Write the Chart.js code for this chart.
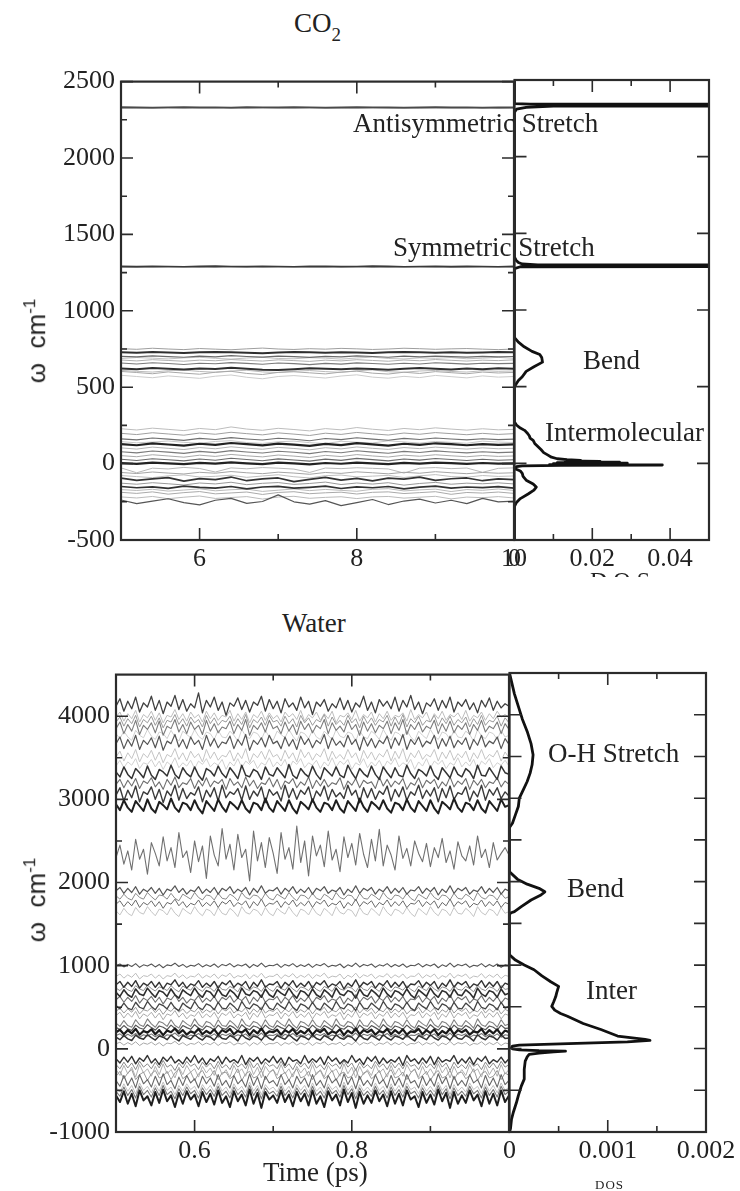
<!DOCTYPE html>
<html>
<head>
<meta charset="utf-8">
<script src="https://cdn.jsdelivr.net/npm/chart.js@4.4.1/dist/chart.umd.min.js"></script>
<style>
  html, body { margin: 0; padding: 0; background: #fff; }
  body { width: 740px; height: 1191px; overflow: hidden; position: relative;
         font-family: 'Liberation Serif', 'Times New Roman', serif; color: #222; }
  canvas { position: absolute; }
  .t { position: absolute; white-space: nowrap; font-size: 27px; line-height: 27px; }
  .ylab { position: absolute; white-space: nowrap; font-family: 'Liberation Sans', Arial, sans-serif;
          font-size: 26px; line-height: 26px; transform: translate(-50%, -50%) rotate(-90deg); }
  .ylab sup { font-size: 17px; }
</style>
</head>
<body>
<canvas id="co2Series" width="503" height="520" style="left:41px;top:60px"></canvas>
<canvas id="co2Dos" width="245" height="520" style="left:504px;top:60px"></canvas>
<canvas id="waterSeries" width="503" height="519" style="left:36px;top:653px"></canvas>
<canvas id="waterDos" width="247" height="519" style="left:499px;top:653px"></canvas>

<div class="t" style="left:294px;top:10px">CO<span style="font-size:19px;position:relative;top:9px">2</span></div>
<div class="t" style="left:353px;top:110px">Antisymmetric Stretch</div>
<div class="t" style="left:393px;top:234px">Symmetric Stretch</div>
<div class="t" style="left:583px;top:347px">Bend</div>
<div class="t" style="left:545px;top:419px">Intermolecular</div>
<div class="ylab" style="left:33px;top:341px">ω&nbsp;&nbsp;cm<sup>-1</sup></div>
<div style="position:absolute;left:590px;top:568px;height:9px;overflow:hidden">
  <div style="font-size:24px;line-height:24px;letter-spacing:6px">DOS</div>
</div>

<div class="t" style="left:282px;top:610px">Water</div>
<div class="t" style="left:548px;top:740px">O-H Stretch</div>
<div class="t" style="left:567px;top:875px">Bend</div>
<div class="t" style="left:586px;top:977px">Inter</div>
<div class="ylab" style="left:33px;top:900px">ω&nbsp;&nbsp;cm<sup>-1</sup></div>
<div class="t" style="left:263px;top:1159px">Time (ps)</div>
<div class="t" style="left:595px;top:1178px;font-size:13px;line-height:13px;letter-spacing:1px">DOS</div>

<script>
// ---------- CO2: instantaneous mode frequencies vs time (cm^-1) ----------
const co2Time = [5.0,5.2,5.4,5.6,5.8,6.0,6.2,6.4,6.6,6.8,7.0,7.2,7.4,7.6,7.8,8.0,8.2,8.4,8.6,8.8,9.0,9.2,9.4,9.6,9.8,10.0];

const co2Asym1 = [2333,2331,2330,2332,2334,2331,2332,2330,2333,2332,2331,2333,2332,2330,2331,2333,2332,2331,2330,2332,2333,2331,2332,2330,2332,2331];
const co2Asym2 = [2325,2327,2328,2326,2324,2327,2326,2328,2325,2327,2326,2324,2327,2328,2326,2325,2327,2328,2326,2325,2327,2326,2328,2327,2325,2327];
const co2Sym1  = [1291,1289,1292,1290,1288,1291,1293,1290,1289,1292,1290,1288,1291,1292,1289,1290,1293,1291,1288,1290,1292,1289,1291,1290,1288,1291];
const co2Sym2  = [1286,1288,1285,1287,1289,1286,1284,1287,1288,1285,1287,1289,1286,1285,1288,1287,1284,1286,1289,1287,1285,1288,1286,1287,1289,1286];

const co2Bend1 = [728,726,730,727,724,729,731,728,725,722,727,730,728,726,729,727,724,728,731,729,726,728,725,727,730,728];
const co2Bend2 = [752,748,755,750,746,753,749,745,751,756,750,747,752,749,754,751,747,750,755,752,748,751,753,749,746,750];
const co2Bend3 = [702,698,705,700,696,703,699,706,701,697,704,700,695,702,699,705,701,696,703,698,704,700,697,702,699,701];
const co2Bend4 = [678,672,680,675,670,677,673,681,676,671,679,674,669,677,672,680,675,670,678,673,681,676,671,677,674,679];
const co2Bend5 = [658,652,660,655,649,657,653,661,656,650,658,654,648,656,651,659,655,650,657,652,660,656,651,657,654,656];
const co2Bend6 = [622,618,625,620,616,623,619,627,621,615,612,618,624,620,617,623,619,614,621,625,620,616,622,618,624,620];
const co2Bend7 = [603,596,588,600,592,585,598,604,590,583,597,601,594,587,599,605,592,586,598,590,602,595,588,599,593,597];
const co2Bend8 = [578,570,562,574,566,558,572,580,565,555,570,576,568,560,573,581,566,559,571,563,577,569,561,574,566,570];
const co2Bend9 = [688,694,690,685,692,696,689,684,691,695,688,686,693,690,684,691,697,688,685,692,689,694,686,690,695,689];
const co2Bend10 = [610,604,599,608,612,603,598,606,611,600,596,605,609,602,597,607,613,601,598,606,610,603,599,608,604,606];

const co2Inter1  = [228,220,232,224,216,230,222,240,226,218,231,223,214,229,221,236,225,217,230,222,234,226,219,228,221,224];
const co2Inter2  = [198,190,202,194,186,200,192,205,196,188,201,193,184,199,191,204,195,187,200,192,203,196,189,198,191,196];
const co2Inter3  = [162,155,168,160,152,165,158,170,161,154,166,159,150,164,157,169,160,153,165,158,168,161,155,163,157,160];
const co2Inter4  = [128,120,132,125,118,130,122,135,127,119,131,124,116,129,121,134,126,118,130,123,133,127,120,128,122,126];
const co2Inter5  = [103,95,108,100,92,105,97,110,101,94,106,99,90,104,96,109,100,93,105,98,108,101,95,103,97,100];
const co2Inter6  = [78,70,82,75,67,80,72,85,76,69,81,74,65,79,71,84,75,68,80,73,83,76,70,78,72,75];
const co2Inter7  = [52,45,58,50,42,55,47,60,51,44,56,49,40,54,46,59,50,43,55,48,58,51,45,53,47,50];
const co2Inter8  = [28,20,32,25,18,30,22,35,27,19,31,24,16,29,21,34,26,18,30,23,33,27,20,28,22,25];
const co2Inter9  = [4,-2,6,1,-4,5,0,8,2,-3,6,1,-5,4,-1,7,2,-3,5,0,7,3,-2,4,0,2];
const co2Inter10 = [-28,-60,-30,-35,-25,-32,-55,-28,-34,-26,-30,-36,-58,-29,-33,-27,-31,-35,-62,-30,-26,-33,-29,-57,-31,-28];
const co2Inter11 = [-58,-65,-55,-62,-68,-57,-63,-52,-60,-66,-56,-62,-70,-58,-64,-54,-60,-67,-57,-63,-53,-60,-66,-58,-63,-60];
const co2Inter12 = [-95,-110,-100,-92,-115,-98,-105,-88,-112,-100,-94,-118,-103,-90,-108,-97,-113,-95,-102,-88,-110,-99,-94,-112,-100,-105];
const co2Inter13 = [-128,-135,-125,-132,-140,-127,-133,-122,-138,-129,-124,-136,-130,-121,-137,-127,-134,-125,-141,-130,-123,-135,-128,-132,-126,-133];
const co2Inter14 = [-150,-158,-152,-162,-148,-156,-160,-150,-165,-153,-149,-161,-155,-147,-163,-152,-158,-150,-166,-154,-148,-160,-153,-157,-151,-160];
const co2Inter15 = [-188,-195,-185,-200,-190,-183,-198,-192,-186,-202,-189,-184,-197,-191,-187,-199,-188,-185,-196,-190,-184,-201,-189,-193,-186,-195];
const co2Inter16 = [-218,-225,-215,-230,-220,-212,-228,-222,-216,-232,-219,-214,-227,-221,-217,-229,-218,-215,-226,-220,-214,-231,-219,-223,-216,-225];
const co2Inter17 = [-238,-262,-245,-230,-255,-270,-240,-228,-260,-248,-205,-250,-265,-242,-275,-255,-235,-268,-245,-232,-258,-240,-262,-228,-250,-245];
const co2Inter18 = [144,136,141,148,139,133,145,150,138,132,143,147,137,131,146,140,135,149,142,134,145,139,133,147,141,138];
const co2Inter19 = [-78,-85,-92,-80,-74,-88,-83,-76,-90,-81,-73,-86,-94,-79,-75,-87,-82,-77,-91,-80,-72,-85,-89,-78,-84,-81];
const co2Inter20 = [-170,-176,-168,-180,-173,-165,-178,-171,-167,-182,-174,-166,-177,-169,-175,-181,-168,-164,-179,-172,-167,-183,-170,-175,-166,-176];

// CO2 density of states: frequency (cm^-1) and DOS value
const co2DosFreq = [-500,-280,-255,-230,-200,-175,-155,-135,-110,-85,-65,-50,-40,-35,-22,-16,-13,-11,-8,-5,-2,1,4,7,10,13,16,19,24,30,40,55,70,90,110,130,150,165,180,200,215,230,250,270,500,520,540,565,600,630,660,690,710,730,760,790,820,1270,1282,1286,1290,1294,1300,1310,1325,1345,2290,2310,2322,2330,2334,2339,2343,2346,2500];
const co2DosVal  = [0,0,0.0005,0.0015,0.0035,0.005,0.0056,0.0048,0.003,0.0022,0.002,0.0015,0.0006,0,0.0005,0.002,0.012,0.038,0.009,0.029,0.01,0.029,0.011,0.027,0.013,0.022,0.014,0.017,0.0135,0.011,0.0095,0.0085,0.0075,0.0068,0.006,0.0052,0.0048,0.004,0.0038,0.0032,0.0026,0.0015,0.0005,0,0,0.0005,0.001,0.002,0.003,0.005,0.0072,0.007,0.0065,0.0045,0.0025,0.001,0,0,0.0015,0.6,0.6,0.006,0.002,0.001,0.0004,0,0,0.0005,0.003,0.01,0.6,0.6,0.004,0,0];

// CO2 axis ticks
const co2TimeLabels = [6, 8, 10];
const co2TimeMajor = [6, 8];
const co2TimeMinor = [7, 9];
const co2FreqLabels = [-500, 0, 500, 1000, 1500, 2000, 2500];
const co2FreqMinor = [-250, 250, 750, 1250, 1750, 2250];
const co2DosLabels = [0, 0.02, 0.04];
const co2DosMajor = [0.02, 0.04];
const co2DosMinor = [0.01, 0.03];

// ---------- Water: instantaneous mode frequencies vs time (cm^-1) ----------
const waterTime = [0.500,0.505,0.510,0.515,0.520,0.525,0.530,0.535,0.540,0.545,
  0.550,0.555,0.560,0.565,0.570,0.575,0.580,0.585,0.590,0.595,
  0.600,0.605,0.610,0.615,0.620,0.625,0.630,0.635,0.640,0.645,
  0.650,0.655,0.660,0.665,0.670,0.675,0.680,0.685,0.690,0.695,
  0.700,0.705,0.710,0.715,0.720,0.725,0.730,0.735,0.740,0.745,
  0.750,0.755,0.760,0.765,0.770,0.775,0.780,0.785,0.790,0.795,
  0.800,0.805,0.810,0.815,0.820,0.825,0.830,0.835,0.840,0.845,
  0.850,0.855,0.860,0.865,0.870,0.875,0.880,0.885,0.890,0.895,
  0.900,0.905,0.910,0.915,0.920,0.925,0.930,0.935,0.940,0.945,
  0.950,0.955,0.960,0.965,0.970,0.975,0.980,0.985,0.990,0.995,
  1.000];

const waterOH1 = [4120,4210,4060,4180,4090,4230,4050,4160,4110,4240,4070,4190,4030,4170,4120,4250,4080,4200,4060,4150,4100,4280,4040,4190,4110,4230,4070,4170,4010,4160,4120,4220,4080,4190,4050,4170,4130,4240,4060,4200,4090,4180,4040,4210,4110,4160,4070,4230,4100,4180,4020,4170,4120,4200,4060,4150,4100,4220,4080,4190,4050,4160,4110,4240,4070,4170,4040,4200,4120,4180,4090,4230,4060,4190,4110,4250,4080,4170,4030,4160,4120,4210,4070,4190,4100,4230,4050,4170,4120,4200,4080,4160,4040,4190,4110,4220,4070,4180,4100,4150,4120];
const waterOH2 = [3990,4050,3940,4030,3970,4070,3930,4020,3980,4060,3950,4040,3920,4010,3990,4080,3960,4030,3940,4050,3980,4020,3930,4060,3970,4040,3950,4010,3990,4070,3940,4030,3960,4050,3920,4020,3980,4060,3950,4040,3970,4010,3930,4050,3990,4030,3960,4070,3940,4020,3980,4050,3950,4030,3970,4060,3920,4010,3990,4040,3960,4070,3940,4020,3980,4050,3930,4030,3970,4060,3950,4010,3990,4040,3940,4080,3960,4020,3980,4050,3930,4030,3970,4060,3950,4020,3990,4040,3960,4070,3940,4010,3980,4050,3950,4030,3970,4060,3990,4020,3980];
const waterOH3 = [3850,3930,3790,3900,3820,3950,3780,3890,3840,3920,3800,3940,3770,3880,3850,3960,3810,3900,3790,3930,3840,3890,3780,3950,3820,3910,3800,3870,3850,3940,3790,3900,3830,3960,3770,3890,3840,3920,3810,3950,3850,3880,3790,3930,3820,3900,3780,3940,3840,3910,3800,3890,3850,3960,3790,3920,3830,3880,3810,3950,3840,3900,3770,3930,3820,3910,3800,3890,3850,3940,3790,3920,3830,3960,3780,3900,3840,3930,3810,3880,3850,3950,3790,3910,3820,3940,3800,3890,3840,3920,3780,3900,3830,3950,3810,3880,3850,3930,3790,3910,3840];
const waterOH4 = [3670,3750,3610,3720,3640,3770,3600,3710,3660,3740,3620,3760,3590,3700,3670,3780,3630,3720,3610,3750,3660,3710,3600,3770,3640,3730,3620,3690,3670,3760,3610,3720,3650,3780,3590,3710,3660,3740,3630,3770,3670,3700,3610,3750,3640,3720,3600,3760,3660,3730,3620,3710,3670,3780,3610,3740,3650,3700,3630,3770,3660,3720,3590,3750,3640,3730,3620,3710,3670,3760,3610,3740,3650,3780,3600,3720,3660,3750,3630,3700,3670,3770,3610,3730,3640,3760,3620,3710,3660,3740,3600,3720,3650,3770,3630,3700,3670,3750,3610,3730,3660];
const waterOH5 = [3510,3580,3460,3560,3490,3600,3450,3550,3500,3590,3470,3570,3440,3540,3510,3610,3480,3560,3460,3580,3500,3550,3450,3600,3490,3570,3470,3530,3510,3590,3460,3560,3490,3610,3440,3550,3500,3580,3480,3600,3510,3540,3460,3590,3490,3560,3450,3600,3500,3570,3470,3550,3510,3610,3460,3580,3490,3540,3480,3600,3500,3560,3440,3590,3490,3570,3470,3550,3510,3600,3460,3580,3490,3610,3450,3560,3500,3590,3480,3540,3510,3600,3460,3570,3490,3590,3470,3550,3500,3580,3450,3560,3490,3600,3480,3540,3510,3590,3460,3570,3500];
const waterOH6 = [3330,3270,3390,3300,3250,3370,3320,3260,3400,3290,3240,3360,3330,3280,3410,3300,3250,3380,3310,3270,3390,3290,3230,3370,3340,3280,3400,3310,3260,3380,3320,3250,3410,3290,3270,3360,3330,3240,3390,3300,3280,3380,3320,3260,3420,3290,3250,3370,3310,3270,3400,3300,3240,3380,3330,3280,3390,3290,3260,3410,3320,3250,3370,3310,3270,3400,3300,3240,3390,3320,3260,3380,3290,3270,3410,3310,3250,3360,3330,3280,3400,3290,3240,3380,3320,3260,3390,3300,3270,3370,3330,3250,3410,3290,3280,3380,3310,3240,3400,3320,3300];
const waterOH7 = [3180,3240,3140,3230,3160,3250,3130,3220,3190,3260,3150,3210,3120,3240,3170,3270,3140,3200,3180,3250,3130,3230,3160,3260,3150,3220,3190,3240,3120,3250,3170,3210,3140,3270,3160,3230,3130,3200,3180,3260,3150,3240,3120,3220,3190,3250,3140,3210,3170,3270,3130,3230,3160,3240,3150,3200,3180,3260,3120,3220,3170,3250,3140,3230,3190,3210,3130,3270,3160,3240,3150,3220,3180,3250,3120,3200,3170,3260,3140,3230,3190,3240,3130,3210,3160,3270,3150,3220,3180,3250,3120,3230,3170,3240,3140,3210,3190,3260,3150,3220,3180];
const waterOH8 = [3050,3140,2980,3110,3020,3160,2970,3090,3060,3150,3000,3120,2960,3100,3040,3170,2990,3130,3010,3080,3050,3150,2970,3110,3030,3140,2980,3170,3020,3090,3060,3130,2990,3160,3000,3100,3040,3150,2960,3120,3050,3090,2980,3170,3020,3130,3000,3110,3060,3150,2970,3100,3040,3160,2990,3120,3030,3080,3010,3170,3050,3110,2960,3140,3020,3130,3000,3100,3060,3160,2980,3120,3030,3150,2990,3090,3050,3170,3010,3110,3040,3140,2970,3130,3020,3160,3000,3080,3060,3150,2980,3100,3030,3170,2990,3120,3050,3140,3010,3090,3040];
const waterOH9 = [2940,2870,2990,2900,2850,2980,2920,2860,3000,2890,2840,2970,2930,2880,3010,2900,2850,2960,2940,2870,2990,2890,2830,2980,2920,2860,3000,2910,2850,2970,2930,2880,2990,2890,2840,2960,2940,2870,3010,2900,2850,2980,2920,2860,2990,2890,2830,2970,2930,2880,3000,2900,2850,2960,2940,2870,2990,2890,2840,2980,2920,2860,3010,2910,2850,2970,2930,2880,2990,2890,2840,2960,2940,2870,3000,2900,2850,2980,2920,2860,2990,2890,2830,2970,2930,2880,3010,2900,2850,2960,2940,2870,2990,2890,2840,2980,2920,2860,3000,2910,2930];
const waterOH10 = [3400,3470,3380,3450,3410,3490,3370,3440,3420,3480,3390,3460,3360,3450,3410,3500,3380,3440,3400,3470,3370,3460,3420,3490,3390,3440,3410,3480,3360,3450,3400,3490,3380,3460,3420,3470,3370,3440,3410,3500,3390,3450,3400,3480,3360,3460,3420,3490,3380,3440,3410,3470,3370,3450,3400,3500,3390,3460,3420,3480,3360,3440,3410,3490,3380,3450,3400,3470,3370,3460,3420,3500,3390,3440,3410,3480,3360,3450,3400,3490,3380,3460,3420,3470,3370,3440,3410,3500,3390,3450,3400,3480,3360,3460,3420,3490,3380,3440,3410,3470,3400];
const waterOH11 = [3790,3730,3820,3750,3710,3830,3770,3740,3840,3760,3720,3810,3790,3730,3830,3750,3700,3820,3780,3740,3840,3760,3720,3810,3790,3720,3830,3750,3740,3820,3770,3700,3840,3760,3730,3810,3790,3720,3830,3750,3710,3820,3780,3740,3840,3760,3700,3810,3790,3730,3830,3750,3720,3820,3770,3720,3840,3760,3740,3810,3790,3700,3830,3750,3730,3820,3780,3720,3840,3760,3710,3810,3790,3740,3830,3750,3700,3820,3770,3730,3840,3760,3720,3810,3790,3720,3830,3750,3740,3820,3780,3700,3840,3760,3730,3810,3790,3720,3830,3750,3770];
const waterOH12 = [3930,3990,3880,3970,3910,4010,3870,3960,3920,4000,3890,3980,3860,3950,3930,4020,3900,3970,3880,3990,3920,3960,3870,4010,3910,3980,3890,3950,3930,4000,3880,3970,3900,4020,3860,3960,3920,3990,3890,4010,3930,3950,3880,4000,3910,3970,3870,4010,3920,3980,3890,3960,3930,4020,3880,3990,3900,3950,3890,4010,3920,3970,3860,4000,3910,3980,3890,3960,3930,4010,3880,3990,3900,4020,3870,3970,3920,4000,3890,3950,3930,4010,3880,3980,3910,4000,3890,3960,3920,3990,3870,3970,3900,4010,3890,3950,3930,4000,3880,3980,3920];
const waterMid = [2300,2450,2220,2380,2150,2520,2280,2400,2100,2480,2350,2200,2550,2260,2420,2180,2600,2300,2380,2120,2500,2250,2440,2050,2560,2330,2200,2650,2280,2460,2150,2580,2300,2400,2020,2620,2260,2480,2180,2540,2350,2110,2600,2280,2420,2160,2680,2240,2500,2080,2560,2320,2450,2190,2620,2270,2400,2130,2550,2300,2470,2210,2590,2340,2180,2520,2260,2640,2200,2450,2330,2150,2560,2290,2410,2200,2500,2350,2250,2470,2190,2420,2300,2530,2240,2380,2160,2490,2320,2260,2440,2210,2560,2300,2400,2180,2480,2270,2350,2420,2330];
const waterBend1 = [1900,1940,1870,1930,1880,1950,1860,1920,1890,1940,1870,1930,1850,1920,1900,1960,1880,1930,1860,1910,1890,1950,1870,1920,1880,1940,1860,1930,1900,1950,1870,1920,1890,1940,1850,1930,1880,1960,1870,1910,1900,1940,1860,1930,1890,1950,1870,1920,1880,1940,1860,1930,1900,1950,1870,1910,1890,1940,1850,1920,1880,1960,1870,1930,1900,1940,1860,1920,1890,1950,1870,1930,1880,1940,1860,1910,1900,1950,1870,1930,1890,1940,1850,1920,1880,1960,1870,1930,1900,1940,1860,1910,1890,1950,1870,1930,1880,1940,1860,1920,1900];
const waterBend2 = [1840,1800,1860,1810,1790,1870,1820,1800,1880,1830,1790,1850,1840,1800,1870,1810,1780,1860,1830,1800,1880,1820,1790,1850,1840,1790,1870,1810,1800,1860,1830,1780,1880,1820,1800,1850,1840,1790,1870,1810,1790,1860,1830,1800,1880,1820,1780,1850,1840,1800,1870,1810,1790,1860,1830,1790,1880,1820,1800,1850,1840,1780,1870,1810,1800,1860,1830,1790,1880,1820,1790,1850,1840,1800,1870,1810,1780,1860,1830,1800,1880,1820,1790,1850,1840,1790,1870,1810,1800,1860,1830,1780,1880,1820,1800,1850,1840,1790,1870,1810,1830];
const waterBend3 = [1740,1780,1710,1770,1720,1790,1700,1760,1730,1780,1710,1770,1690,1760,1740,1800,1720,1770,1700,1750,1730,1790,1710,1760,1720,1780,1700,1770,1740,1790,1710,1760,1730,1780,1690,1770,1720,1800,1710,1750,1740,1780,1700,1770,1730,1790,1710,1760,1720,1780,1700,1770,1740,1790,1710,1750,1730,1780,1690,1760,1720,1800,1710,1770,1740,1780,1700,1760,1730,1790,1710,1770,1720,1780,1700,1750,1740,1790,1710,1770,1730,1780,1690,1760,1720,1800,1710,1770,1740,1780,1700,1750,1730,1790,1710,1770,1720,1780,1700,1760,1740];
const waterBend4 = [1660,1610,1690,1630,1600,1700,1640,1620,1710,1650,1600,1680,1660,1610,1700,1630,1590,1690,1650,1620,1710,1640,1600,1680,1660,1600,1700,1630,1610,1690,1650,1590,1710,1640,1620,1680,1660,1600,1700,1630,1600,1690,1650,1620,1710,1640,1590,1680,1660,1610,1700,1630,1600,1690,1650,1600,1710,1640,1620,1680,1660,1590,1700,1630,1610,1690,1650,1600,1710,1640,1600,1680,1660,1620,1700,1630,1590,1690,1650,1610,1710,1640,1600,1680,1660,1600,1700,1630,1620,1690,1650,1590,1710,1640,1610,1680,1660,1600,1700,1630,1650];
const waterInter1 = [1000,1020,985,1015,990,1025,980,1010,995,1020,985,1015,975,1010,1000,1030,990,1015,980,1005,995,1025,985,1010,990,1020,980,1015,1000,1025,985,1010,995,1020,975,1015,990,1030,985,1005,1000,1020,980,1015,995,1025,985,1010,990,1020,980,1015,1000,1025,985,1005,995,1020,975,1010,990,1030,985,1015,1000,1020,980,1010,995,1025,985,1015,990,1020,980,1005,1000,1025,985,1015,995,1020,975,1010,990,1030,985,1015,1000,1020,980,1005,995,1025,985,1015,990,1020,980,1010,1000];
const waterInter2 = [870,900,850,890,860,910,840,880,870,900,850,890,840,880,870,910,855,890,845,875,865,905,850,885,860,900,845,890,870,910,850,880,865,900,840,890,860,910,850,875,870,900,845,890,865,905,850,885,860,900,845,890,870,910,850,875,865,900,840,885,860,910,850,890,870,900,845,880,865,905,850,890,860,900,845,875,870,910,850,890,865,900,840,880,860,910,850,890,870,900,845,875,865,905,850,890,860,900,845,885,870];
const waterInter3 = [770,810,740,800,750,820,730,790,760,810,740,800,720,790,770,830,750,800,730,780,760,820,740,790,750,810,730,800,770,820,740,790,760,810,720,800,750,830,740,780,770,810,730,800,760,820,740,790,750,810,730,800,770,820,740,780,760,810,720,790,750,830,740,800,770,810,730,790,760,820,740,800,750,810,730,780,770,820,740,800,760,810,720,790,750,830,740,800,770,810,730,780,760,820,740,800,750,810,730,790,770];
const waterInter4 = [680,630,710,650,620,720,660,640,730,670,620,700,680,630,720,650,610,710,670,640,730,660,620,700,680,620,720,650,630,710,670,610,730,660,640,700,680,620,720,650,620,710,670,640,730,660,610,700,680,630,720,650,620,710,670,620,730,660,640,700,680,610,720,650,630,710,670,620,730,660,620,700,680,640,720,650,610,710,670,630,730,660,620,700,680,620,720,650,640,710,670,610,730,660,630,700,680,620,720,650,670];
const waterInter5 = [590,630,560,620,570,640,550,610,580,630,560,620,540,610,590,650,570,620,550,600,580,640,560,610,570,630,550,620,590,640,560,610,580,630,540,620,570,650,560,600,590,630,550,620,580,640,560,610,570,630,550,620,590,640,560,600,580,630,540,610,570,650,560,620,590,630,550,610,580,640,560,620,570,630,550,600,590,640,560,620,580,630,540,610,570,650,560,620,590,630,550,600,580,640,560,620,570,630,550,610,590];
const waterInter6 = [520,480,550,490,470,560,500,480,570,510,470,540,520,480,560,490,460,550,510,480,570,500,470,540,520,470,560,490,480,550,510,460,570,500,480,540,520,470,560,490,470,550,510,480,570,500,460,540,520,480,560,490,470,550,510,470,570,500,480,540,520,460,560,490,480,550,510,470,570,500,470,540,520,480,560,490,460,550,510,480,570,500,470,540,520,470,560,490,480,550,510,460,570,500,480,540,520,470,560,490,510];
const waterInter7 = [400,440,370,430,380,450,360,420,390,440,370,430,350,420,400,460,380,430,360,410,390,450,370,420,380,440,360,430,400,450,370,420,390,440,350,430,380,460,370,410,400,440,360,430,390,450,370,420,380,440,360,430,400,450,370,410,390,440,350,420,380,460,370,430,400,440,360,420,390,450,370,430,380,440,360,410,400,450,370,430,390,440,350,420,380,460,370,430,400,440,360,410,390,450,370,430,380,440,360,420,400];
const waterInter8 = [310,270,340,280,260,350,290,270,360,300,260,330,310,270,350,280,250,340,300,270,360,290,260,330,310,260,350,280,270,340,300,250,360,290,270,330,310,260,350,280,260,340,300,270,360,290,250,330,310,270,350,280,260,340,300,260,360,290,270,330,310,250,350,280,270,340,300,260,360,290,260,330,310,270,350,280,250,340,300,270,360,290,260,330,310,260,350,280,270,340,300,250,360,290,270,330,310,260,350,280,300];
const waterInter9 = [200,230,175,225,185,240,170,215,195,235,175,225,165,220,200,245,185,225,170,210,190,240,175,215,185,235,170,225,200,240,175,215,195,235,165,225,185,245,175,210,200,230,170,225,195,240,175,215,185,235,170,225,200,240,175,210,190,235,165,220,185,245,175,225,200,230,170,215,195,240,175,225,185,235,170,210,200,240,175,225,190,235,165,215,185,245,175,225,200,230,170,210,195,240,175,225,185,235,170,220,200];
const waterInter10 = [140,110,160,120,100,165,130,115,170,135,105,155,140,110,165,125,95,160,135,115,170,130,105,155,140,105,165,125,115,160,135,95,170,130,110,155,140,105,165,125,105,160,135,115,170,130,95,155,140,110,165,125,105,160,135,105,170,130,115,155,140,95,165,125,110,160,135,105,170,130,105,155,140,115,165,125,95,160,135,110,170,130,105,155,140,105,165,125,115,160,135,95,170,130,110,155,140,105,165,125,130];
const waterInter11 = [60,80,45,75,50,85,40,70,55,80,45,75,35,70,60,90,50,75,40,65,55,85,45,70,50,80,40,75,60,85,45,70,55,80,35,75,50,90,45,65,60,80,40,75,55,85,45,70,50,80,40,75,60,85,45,65,55,80,35,70,50,90,45,75,60,80,40,70,55,85,45,75,50,80,40,65,60,85,45,75,55,80,35,70,50,90,45,75,60,80,40,65,55,85,45,75,50,80,40,70,60];
const waterInter12 = [730,700,750,710,690,760,720,700,765,725,695,745,730,700,760,715,685,755,725,705,765,720,690,745,730,690,760,715,705,750,725,685,765,720,700,745,730,690,760,715,690,755,725,705,765,720,685,745,730,700,760,715,690,750,725,690,765,720,705,745,730,685,760,715,700,755,725,690,765,720,690,745,730,705,760,715,685,755,725,700,765,720,690,745,730,690,760,715,705,750,725,685,765,720,700,745,730,690,760,715,725];
const waterInter13 = [450,490,430,480,440,500,420,470,455,495,435,485,415,475,450,505,440,480,425,465,445,500,430,470,440,490,420,480,455,500,430,470,445,495,415,480,440,505,430,465,450,490,425,480,445,500,430,470,440,490,420,480,455,500,430,465,445,495,415,475,440,505,430,480,450,490,425,470,445,500,430,480,440,495,420,465,455,500,430,480,445,490,415,470,440,505,430,480,450,490,425,465,445,500,430,480,440,495,420,475,450];
const waterInter14 = [260,230,280,240,220,285,250,235,290,255,225,275,260,230,285,245,215,280,255,235,290,250,225,275,260,225,285,245,235,280,255,215,290,250,230,275,260,225,285,245,225,280,255,235,290,250,215,275,260,230,285,245,225,280,255,225,290,250,235,275,260,215,285,245,230,280,255,225,290,250,225,275,260,235,285,245,215,280,255,230,290,250,225,275,260,225,285,245,235,280,255,215,290,250,230,275,260,225,285,245,250];
const waterInter15 = [160,180,145,175,150,185,140,170,155,180,145,175,135,170,160,190,150,175,140,165,155,185,145,170,150,180,140,175,160,185,145,170,155,180,135,175,150,190,145,165,160,180,140,175,155,185,145,170,150,180,140,175,160,185,145,165,155,180,135,170,150,190,145,175,160,180,140,170,155,185,145,175,150,180,140,165,160,185,145,175,155,180,135,170,150,190,145,175,160,180,140,165,155,185,145,175,150,180,140,170,160];
const waterLow1 = [-120,-170,-100,-160,-90,-180,-110,-150,-80,-170,-120,-190,-100,-150,-90,-170,-130,-180,-100,-160,-80,-170,-110,-190,-120,-150,-90,-180,-100,-160,-130,-170,-80,-190,-110,-150,-100,-180,-120,-160,-90,-170,-110,-200,-100,-150,-130,-180,-80,-170,-120,-160,-100,-190,-90,-150,-110,-180,-130,-170,-80,-160,-120,-190,-100,-150,-90,-180,-110,-170,-130,-160,-100,-200,-80,-150,-120,-180,-110,-170,-90,-190,-100,-160,-130,-150,-80,-180,-120,-170,-100,-190,-110,-150,-90,-180,-130,-160,-100,-170,-120];
const waterLow2 = [-250,-320,-200,-300,-220,-340,-190,-290,-240,-330,-210,-310,-180,-300,-250,-350,-220,-310,-200,-280,-240,-340,-210,-290,-230,-320,-190,-310,-250,-340,-200,-290,-240,-330,-180,-310,-220,-350,-210,-280,-250,-320,-190,-300,-240,-340,-210,-290,-230,-330,-190,-310,-250,-340,-200,-280,-240,-330,-180,-300,-220,-350,-210,-310,-250,-320,-190,-290,-240,-340,-200,-310,-230,-330,-190,-280,-250,-340,-210,-310,-240,-320,-180,-290,-220,-350,-210,-310,-250,-320,-190,-280,-240,-340,-200,-310,-230,-330,-190,-300,-250];
const waterLow3 = [-380,-450,-320,-440,-350,-470,-310,-420,-370,-460,-330,-440,-300,-430,-380,-480,-340,-440,-320,-410,-360,-470,-330,-420,-350,-450,-310,-440,-380,-470,-320,-420,-370,-460,-300,-440,-340,-480,-330,-410,-380,-450,-310,-430,-370,-470,-330,-420,-350,-460,-310,-440,-380,-470,-320,-410,-360,-460,-300,-430,-340,-480,-330,-440,-380,-450,-310,-420,-370,-470,-320,-440,-350,-460,-310,-410,-380,-470,-330,-440,-360,-450,-300,-420,-340,-480,-330,-440,-380,-450,-310,-410,-370,-470,-320,-440,-350,-460,-310,-430,-380];
const waterLow4 = [-460,-520,-420,-510,-440,-540,-410,-500,-450,-530,-430,-510,-400,-500,-460,-550,-440,-510,-420,-490,-450,-540,-430,-500,-440,-520,-410,-510,-460,-540,-420,-500,-450,-530,-400,-510,-440,-550,-430,-490,-460,-520,-410,-510,-450,-540,-430,-500,-440,-530,-410,-510,-460,-540,-420,-490,-450,-530,-400,-500,-440,-550,-430,-510,-460,-520,-410,-500,-450,-540,-420,-510,-440,-530,-410,-490,-460,-540,-430,-510,-450,-520,-400,-500,-440,-550,-430,-510,-460,-520,-410,-490,-450,-540,-420,-510,-440,-530,-410,-500,-460];
const waterLow5 = [-560,-640,-510,-660,-540,-690,-500,-620,-570,-680,-520,-650,-490,-630,-560,-700,-530,-660,-510,-610,-550,-690,-520,-640,-540,-670,-500,-650,-570,-700,-510,-630,-550,-680,-490,-660,-530,-710,-520,-610,-560,-650,-500,-640,-550,-690,-520,-630,-540,-680,-500,-660,-570,-700,-510,-620,-550,-680,-490,-640,-530,-710,-520,-660,-560,-650,-500,-630,-550,-690,-510,-660,-540,-680,-500,-610,-570,-700,-520,-650,-550,-670,-490,-630,-530,-710,-520,-660,-560,-650,-500,-620,-550,-690,-510,-660,-540,-680,-500,-640,-560];
const waterLow6 = [-190,-240,-160,-230,-170,-250,-150,-220,-180,-240,-160,-230,-140,-220,-190,-260,-170,-230,-150,-210,-180,-250,-160,-220,-170,-240,-150,-230,-190,-250,-160,-220,-180,-240,-140,-230,-170,-260,-160,-210,-190,-240,-150,-230,-180,-250,-160,-220,-170,-240,-150,-230,-190,-250,-160,-210,-180,-240,-140,-220,-170,-260,-160,-230,-190,-240,-150,-220,-180,-250,-160,-230,-170,-240,-150,-210,-190,-250,-160,-230,-180,-240,-140,-220,-170,-260,-160,-230,-190,-240,-150,-210,-180,-250,-160,-230,-170,-240,-150,-220,-190];
const waterLow7 = [-330,-270,-360,-290,-250,-370,-310,-280,-380,-300,-260,-350,-330,-270,-370,-290,-240,-360,-320,-280,-380,-300,-260,-350,-330,-260,-370,-290,-280,-360,-320,-240,-380,-300,-270,-350,-330,-260,-370,-290,-250,-360,-320,-280,-380,-300,-240,-350,-330,-270,-370,-290,-260,-360,-320,-260,-380,-300,-280,-350,-330,-240,-370,-290,-270,-360,-320,-260,-380,-300,-250,-350,-330,-280,-370,-290,-240,-360,-320,-270,-380,-300,-260,-350,-330,-260,-370,-290,-280,-360,-320,-240,-380,-300,-270,-350,-330,-260,-370,-290,-320];
const waterLow8 = [-510,-570,-460,-560,-490,-590,-450,-550,-500,-580,-470,-560,-440,-550,-510,-600,-480,-560,-460,-540,-500,-590,-470,-550,-490,-570,-450,-560,-510,-590,-460,-550,-500,-580,-440,-560,-480,-600,-470,-540,-510,-570,-450,-560,-500,-590,-470,-550,-490,-580,-450,-560,-510,-590,-460,-540,-500,-580,-440,-550,-480,-600,-470,-560,-510,-570,-450,-550,-500,-590,-460,-560,-490,-580,-450,-540,-510,-590,-470,-560,-500,-570,-440,-550,-480,-600,-470,-560,-510,-570,-450,-540,-500,-590,-460,-560,-490,-580,-450,-550,-510];

// Water density of states: frequency (cm^-1) and DOS value
const waterDosFreq = [-1000,-960,-850,-760,-650,-565,-450,-366,-250,-150,-100,-70,-55,-40,-31,-25,-15,-5,10,30,40,60,80,97,110,150,228,300,387,420,460,506,560,620,668,745,800,870,944,1000,1060,1123,1600,1624,1640,1700,1780,1840,1878,1920,1970,2030,2117,2650,2700,2800,2900,3000,3100,3200,3300,3400,3520,3650,3800,3950,4100,4250,4400,4500];
const waterDosVal  = [0,0.00001,0.00002,0.00004,0.00007,0.00009,0.00012,0.00015,0.00015,0.00016,0.00018,0.0002,0.0003,0.00045,0.00057,0.0003,0.0001,0.00003,0.00002,0.00003,0.0001,0.0006,0.0012,0.00143,0.00138,0.0011,0.00093,0.00075,0.00059,0.00052,0.00046,0.00043,0.00045,0.00047,0.00048,0.0005,0.00042,0.00033,0.00025,0.00015,0.00006,0,0,0.00001,0.00005,0.00012,0.00022,0.00032,0.00036,0.0003,0.00018,0.00008,0,0,0.00003,0.00006,0.00009,0.0001,0.00014,0.00018,0.00021,0.00023,0.00024,0.00022,0.00018,0.00013,0.00009,0.00005,0.00002,0];

// Water axis ticks
const waterTimeLabels = [0.6, 0.8];
const waterTimeMajor = [0.6, 0.8];
const waterTimeMinor = [0.7, 0.9];
const waterFreqLabels = [-1000, 0, 1000, 2000, 3000, 4000];
const waterFreqMinor = [-500, 500, 1500, 2500, 3500];
const waterDosFreqTicks = [-500, 0, 500, 1000, 1500, 2000, 2500, 3000, 3500, 4000];
const waterDosLabels = [0, 0.001, 0.002];
const waterDosMajor = [0.001];
const waterDosMinor = [0.0005, 0.0015];

// ---------- trace styles (series, stroke colour, stroke width) ----------
const co2Styles = [
  [co2Asym1, '#4a4a4a', 1.6], [co2Asym2, '#9a9a9a', 1.2],
  [co2Sym1, '#3a3a3a', 1.6], [co2Sym2, '#8a8a8a', 1.2],
  [co2Bend1, '#2e2e2e', 2], [co2Bend2, '#9e9e9e', 1], [co2Bend3, '#6a6a6a', 1.2], [co2Bend4, '#b0b0b0', 1],
  [co2Bend5, '#7a7a7a', 1.1], [co2Bend6, '#2e2e2e', 2], [co2Bend7, '#a8a8a8', 1], [co2Bend8, '#cccccc', 1],
  [co2Bend9, '#c0c0c0', 1], [co2Bend10, '#bbbbbb', 1],
  [co2Inter1, '#bdbdbd', 1], [co2Inter2, '#a0a0a0', 1], [co2Inter3, '#707070', 1.1], [co2Inter4, '#222222', 2.2],
  [co2Inter5, '#b5b5b5', 1], [co2Inter6, '#7a7a7a', 1.1], [co2Inter7, '#aaaaaa', 1], [co2Inter8, '#6a6a6a', 1.1],
  [co2Inter9, '#222222', 2.2], [co2Inter10, '#b8b8b8', 1], [co2Inter11, '#a5a5a5', 1], [co2Inter12, '#333333', 1.7],
  [co2Inter13, '#9a9a9a', 1], [co2Inter14, '#333333', 1.7], [co2Inter15, '#aaaaaa', 1], [co2Inter16, '#bbbbbb', 1],
  [co2Inter17, '#555555', 1.2], [co2Inter18, '#c8c8c8', 1], [co2Inter19, '#c0c0c0', 1], [co2Inter20, '#bbbbbb', 1]
];
const waterStyles = [
  [waterOH1, '#404040', 1.3], [waterOH2, '#bdbdbd', 1], [waterOH3, '#7a7a7a', 1.1], [waterOH4, '#555555', 1.2],
  [waterOH5, '#c4c4c4', 1], [waterOH6, '#333333', 1.5], [waterOH7, '#6e6e6e', 1.1], [waterOH8, '#3a3a3a', 1.4],
  [waterOH9, '#1e1e1e', 2], [waterOH10, '#d0d0d0', 1], [waterOH11, '#cfcfcf', 1], [waterOH12, '#9a9a9a', 1],
  [waterMid, '#707070', 1.1],
  [waterBend1, '#555555', 1.2], [waterBend2, '#8a8a8a', 1], [waterBend3, '#6a6a6a', 1], [waterBend4, '#c4c4c4', 1],
  [waterInter1, '#555555', 1.1], [waterInter2, '#bdbdbd', 1], [waterInter3, '#333333', 1.4], [waterInter4, '#2e2e2e', 1.6],
  [waterInter5, '#6e6e6e', 1.1], [waterInter6, '#444444', 1.3], [waterInter7, '#aaaaaa', 1], [waterInter8, '#808080', 1.1],
  [waterInter9, '#1a1a1a', 2.2], [waterInter10, '#333333', 1.5], [waterInter11, '#a8a8a8', 1],
  [waterInter12, '#8a8a8a', 1], [waterInter13, '#9a9a9a', 1], [waterInter14, '#555555', 1.2], [waterInter15, '#777777', 1.1],
  [waterLow1, '#333333', 1.4], [waterLow2, '#b0b0b0', 1], [waterLow3, '#666666', 1.1], [waterLow4, '#c0c0c0', 1],
  [waterLow5, '#1e1e1e', 2], [waterLow6, '#8a8a8a', 1], [waterLow7, '#9a9a9a', 1], [waterLow8, '#777777', 1.1]
];

// ---------- drawing helpers ----------
const serif = { family: "'Liberation Serif', 'Times New Roman', serif", size: 26 };

function traceSets(time, styles) {
  return styles.map(([vals, color, width]) => ({
    data: time.map((t, i) => ({ x: t, y: vals[i] })),
    borderColor: color,
    borderWidth: width,
    borderJoinStyle: 'round',
    pointRadius: 0,
    tension: 0,
    // darker traces sit on top of lighter ones
    order: parseInt(color.slice(1, 3), 16)
  }));
}

function dosSet(freq, vals) {
  return [{
    data: freq.map((f, i) => ({ x: vals[i], y: f })),
    borderColor: '#111111',
    borderWidth: 2.8,
    borderJoinStyle: 'round',
    pointRadius: 0,
    tension: 0
  }];
}

// Closed frame with inward tick marks on all four sides
function frameTicks(cfg) {
  return {
    id: 'frameTicks',
    afterDatasetsDraw(chart) {
      const { ctx, chartArea: a } = chart;
      const xs = chart.scales.x, ys = chart.scales.y;
      ctx.save();
      ctx.strokeStyle = '#2b2b2b';
      ctx.lineWidth = 1.6;
      ctx.beginPath();
      const vert = (vals, len) => vals.forEach(v => {
        const p = xs.getPixelForValue(v);
        ctx.moveTo(p, a.top); ctx.lineTo(p, a.top + len);
        ctx.moveTo(p, a.bottom); ctx.lineTo(p, a.bottom - len);
      });
      const horiz = (vals, len) => vals.forEach(v => {
        const p = ys.getPixelForValue(v);
        ctx.moveTo(a.left, p); ctx.lineTo(a.left + len, p);
        ctx.moveTo(a.right, p); ctx.lineTo(a.right - len, p);
      });
      vert(cfg.xMajor, 12); vert(cfg.xMinor, 6);
      horiz(cfg.yMajor, 12); horiz(cfg.yMinor, 6);
      ctx.stroke();
      ctx.lineWidth = 2.2;
      ctx.strokeRect(a.left, a.top, a.right - a.left, a.bottom - a.top);
      ctx.restore();
    }
  };
}

function panel(id, datasets, cfg) {
  return new Chart(document.getElementById(id), {
    type: 'line',
    data: { datasets },
    options: {
      responsive: false,
      animation: false,
      devicePixelRatio: 1,
      layout: { padding: { top: 20, right: cfg.padRight, left: 0, bottom: 0 } },
      plugins: { legend: { display: false }, tooltip: { enabled: false } },
      scales: {
        x: {
          type: 'linear', min: cfg.xMin, max: cfg.xMax,
          grid: { display: false, drawTicks: false }, border: { display: false },
          afterBuildTicks: s => { s.ticks = cfg.xLabels.map(v => ({ value: v })); },
          afterFit: s => { s.height = 40; },
          ticks: { font: serif, color: '#222', padding: 4, maxRotation: 0, autoSkip: false, callback: v => String(v) }
        },
        y: {
          type: 'linear', min: cfg.yMin, max: cfg.yMax,
          grid: { display: false, drawTicks: false }, border: { display: false },
          afterBuildTicks: s => { s.ticks = cfg.yLabels.map(v => ({ value: v })); },
          afterFit: s => { s.width = cfg.yWidth; },
          ticks: { display: cfg.showY, font: serif, color: '#222', padding: 6, autoSkip: false, callback: v => String(v) }
        }
      }
    },
    plugins: [frameTicks(cfg)]
  });
}

// ---------- CO2 ----------
panel('co2Series', traceSets(co2Time, co2Styles), {
  xMin: 5, xMax: 10, yMin: -500, yMax: 2500, padRight: 30, yWidth: 80, showY: true,
  xLabels: co2TimeLabels, yLabels: co2FreqLabels,
  xMajor: co2TimeMajor, xMinor: co2TimeMinor, yMajor: co2FreqLabels, yMinor: co2FreqMinor
});
panel('co2Dos', dosSet(co2DosFreq, co2DosVal), {
  xMin: 0, xMax: 0.05, yMin: -500, yMax: 2500, padRight: 40, yWidth: 10, showY: false,
  xLabels: co2DosLabels, yLabels: co2FreqLabels,
  xMajor: co2DosMajor, xMinor: co2DosMinor, yMajor: co2FreqLabels, yMinor: []
});

// ---------- Water ----------
panel('waterSeries', traceSets(waterTime, waterStyles), {
  xMin: 0.5, xMax: 1.0, yMin: -1000, yMax: 4500, padRight: 30, yWidth: 80, showY: true,
  xLabels: waterTimeLabels, yLabels: waterFreqLabels,
  xMajor: waterTimeMajor, xMinor: waterTimeMinor, yMajor: waterFreqLabels, yMinor: waterFreqMinor
});
panel('waterDos', dosSet(waterDosFreq, waterDosVal), {
  xMin: 0, xMax: 0.002, yMin: -1000, yMax: 4500, padRight: 40, yWidth: 10, showY: false,
  xLabels: waterDosLabels, yLabels: waterFreqLabels,
  xMajor: waterDosMajor, xMinor: waterDosMinor, yMajor: waterDosFreqTicks, yMinor: []
});
</script>
</body>
</html>
